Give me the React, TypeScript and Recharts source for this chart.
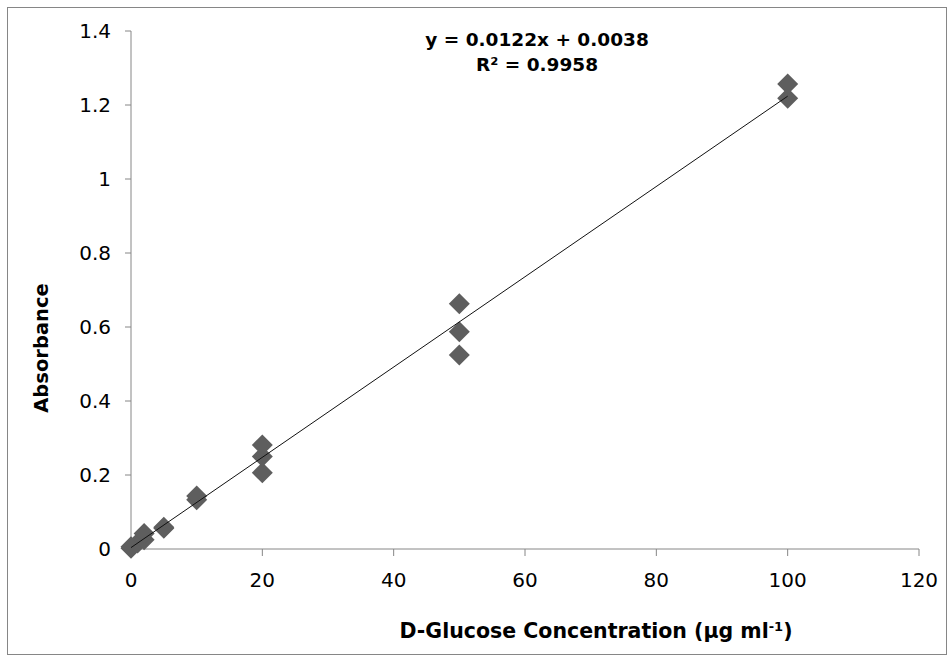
import { Scatter, ScatterChart, XAxis, YAxis, Label } from "recharts";

// glucose standards (µg/ml) and measured absorbance, replicates listed separately
const concentration = [0, 0, 1, 2, 2, 5, 5, 10, 10, 20, 20, 20, 50, 50, 50, 100, 100];
const absorbance = [
  0.002, 0.006, 0.016, 0.025, 0.042, 0.056, 0.059, 0.133, 0.143, 0.206, 0.25, 0.281,
  0.524, 0.587, 0.663, 1.218, 1.257,
];

// linear fit endpoints: y = 0.0122x + 0.0038
const fitX = [0, 100];
const fitY = [0.0038, 1.2238];

const xTicks = [0, 20, 40, 60, 80, 100, 120];
const yTicks = [0, 0.2, 0.4, 0.6, 0.8, 1, 1.2, 1.4];

const points = concentration.map((x, i) => ({ x, y: absorbance[i] }));
const fitLine = fitX.map((x, i) => ({ x, y: fitY[i] }));

const FONT = "'DejaVu Sans', Verdana, sans-serif";
const AXIS = "#868686";

function Diamond(props: { cx?: number; cy?: number }) {
  const { cx = 0, cy = 0 } = props;
  const r = 10.5;
  return (
    <polygon
      points={`${cx},${cy - r} ${cx + r},${cy} ${cx},${cy + r} ${cx - r},${cy}`}
      fill="#5e5e5e"
    />
  );
}

export default function App() {
  return (
    <div
      style={{
        position: "absolute",
        left: 7,
        top: 7,
        width: 938,
        height: 646,
        border: `1px solid ${AXIS}`,
        background: "#fff",
        fontFamily: FONT,
      }}
    >
      <div
        style={{
          position: "absolute",
          left: 0,
          width: 1058,
          top: 19,
          textAlign: "center",
          fontWeight: "bold",
          fontSize: 18.5,
          lineHeight: "25px",
          color: "#000",
        }}
      >
        <div>y = 0.0122x + 0.0038</div>
        <div>R² = 0.9958</div>
      </div>
      <ScatterChart
        width={938}
        height={646}
        margin={{ top: 23, right: 27, left: 0, bottom: 0 }}
      >
        <XAxis
          type="number"
          dataKey="x"
          domain={[0, 120]}
          ticks={xTicks}
          interval={0}
          stroke={AXIS}
          tickSize={7}
          tickMargin={17}
          height={105}
          tick={{ fill: "#000", fontSize: 20, fontFamily: FONT }}
        >
          <Label
            content={() => (
              <text
                x={588}
                y={630}
                textAnchor="middle"
                fontFamily={FONT}
                fontWeight="bold"
                fontSize={20.5}
                fill="#000"
              >
                D-Glucose Concentration (µg ml
                <tspan dy={-7} fontSize={13}>
                  -1
                </tspan>
                <tspan dy={7}>)</tspan>
              </text>
            )}
          />
        </XAxis>
        <YAxis
          type="number"
          dataKey="y"
          domain={[0, 1.4]}
          ticks={yTicks}
          interval={0}
          stroke={AXIS}
          tickSize={6}
          tickMargin={14}
          width={123}
          tick={{ fill: "#000", fontSize: 20, fontFamily: FONT }}
        >
          <Label
            content={() => (
              <text
                x={33}
                y={340}
                transform="rotate(-90 33 340)"
                textAnchor="middle"
                dominantBaseline="central"
                fontFamily={FONT}
                fontWeight="bold"
                fontSize={19.5}
                fill="#000"
              >
                Absorbance
              </text>
            )}
          />
        </YAxis>
        <Scatter data={points} shape={Diamond} isAnimationActive={false} />
        <Scatter
          data={fitLine}
          line={{ stroke: "#111", strokeWidth: 1 }}
          shape={() => <g />}
          isAnimationActive={false}
        />
      </ScatterChart>
    </div>
  );
}
